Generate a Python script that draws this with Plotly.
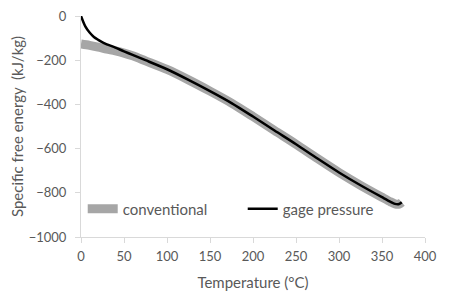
import plotly.graph_objects as go

# Data
temp_conv = [0, 10, 20, 30, 40, 50, 60, 75, 100, 125, 150, 175, 200, 225, 250, 275, 300, 325, 350, 360, 365, 370, 373]
conv = [-127, -133, -141, -150, -158, -168, -180, -203, -242, -289, -340, -394, -455, -518, -580, -645, -708, -766, -820, -841, -850, -851, -843]

temp_gage = [0, 5, 10, 15, 20, 25, 30, 40, 50, 60, 75, 100, 125, 150, 175, 200, 225, 250, 275, 300, 325, 350, 360, 365, 370, 373]
gage = [0, -47, -75, -95, -108, -119, -128, -143, -160, -176, -200, -241, -289, -340, -394, -455, -518, -580, -645, -708, -766, -820, -841, -850, -851, -843]

x_ticks = [0, 50, 100, 150, 200, 250, 300, 350, 400]
y_ticks = [0, -200, -400, -600, -800, -1000]

FONT = "Lato"
TXT = "#595959"
AX = "#d9d9d9"
FT = 13   # tick labels
FL = 15   # titles / legend

fig = go.Figure()
fig.add_trace(go.Scatter(x=temp_conv, y=conv, mode="lines", name="conventional",
                         line=dict(color="#a6a6a6", width=9, shape="spline", smoothing=0.8)))
fig.add_trace(go.Scatter(x=temp_gage, y=gage, mode="lines", name="gage pressure",
                         line=dict(color="#000000", width=2.5, shape="spline", smoothing=0.8)))

# page body has an 8px default margin, so the figure is sized/margined to compensate
fig.update_layout(
    width=442, height=290,
    margin=dict(l=73, r=25, t=8, b=61),
    paper_bgcolor="white", plot_bgcolor="white",
    font=dict(family=FONT, size=FL, color=TXT),
    showlegend=True,
    legend=dict(orientation="h", x=0.005, y=0.127, xanchor="left", yanchor="middle",
                bgcolor="rgba(0,0,0,0)", font=dict(size=FL, color=TXT),
                entrywidth=115, entrywidthmode="pixels"),
    xaxis=dict(range=[0, 400], tickvals=x_ticks, showgrid=False, zeroline=False,
               showline=True, linecolor=AX, linewidth=1, ticks="outside", ticklen=5,
               tickcolor=AX, tickfont=dict(size=FT, color=TXT), automargin=False,
               ticklabeloverflow="allow", ticklabelstandoff=2,
               title=dict(text="Temperature (°C)", font=dict(size=FL, color=TXT), standoff=14)),
    yaxis=dict(range=[-1000, 0], tickvals=y_ticks, showgrid=False, zeroline=False,
               showline=True, linecolor=AX, linewidth=1, ticks="outside", ticklen=5,
               tickcolor=AX, tickfont=dict(size=FT, color=TXT), automargin=False,
               ticklabeloverflow="allow", ticklabelstandoff=6,
               title=dict(text="Specific free energy\u00a0\u00a0(kJ/kg)", font=dict(size=FL, color=TXT), standoff=4)),
)

fig.write_html("out.html")
